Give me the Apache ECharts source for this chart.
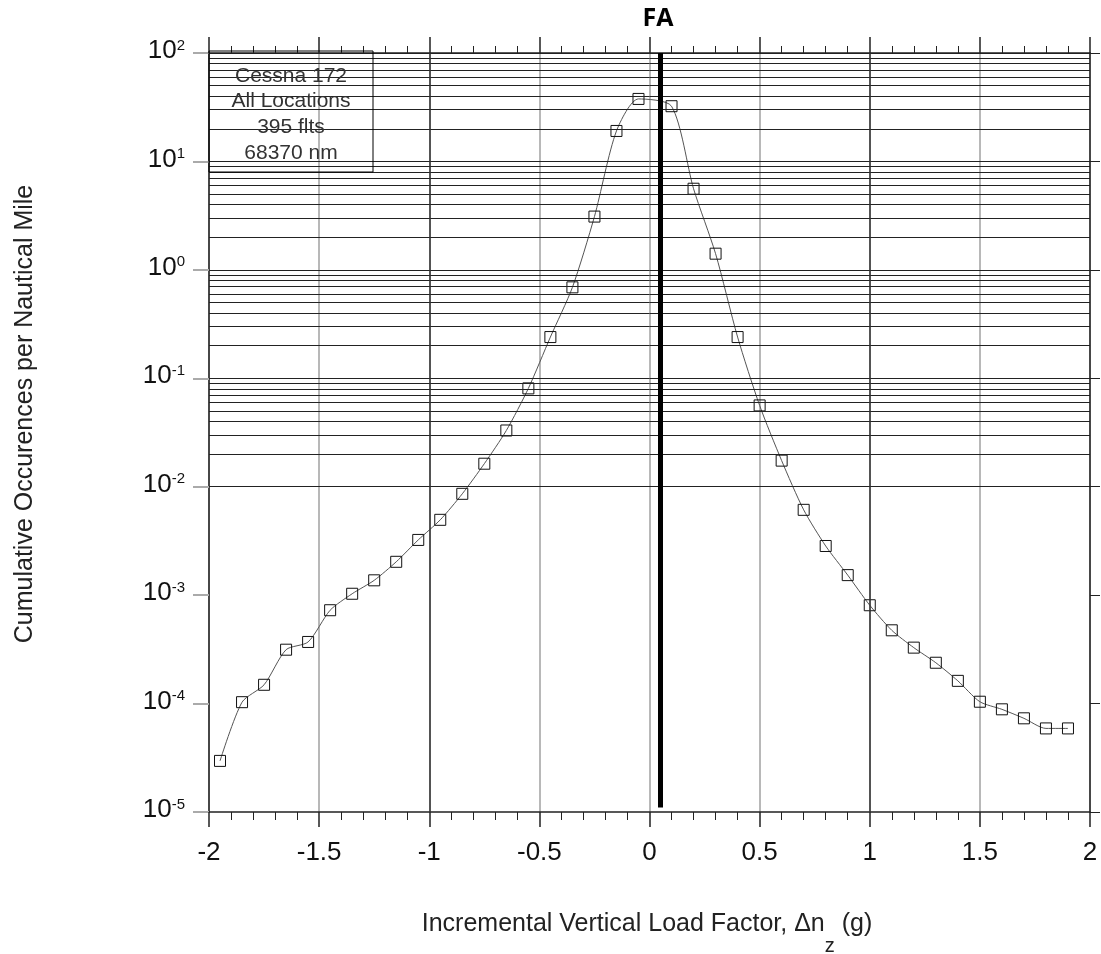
<!DOCTYPE html>
<html><head><meta charset="utf-8">
<script src="https://cdn.jsdelivr.net/npm/echarts@6/dist/echarts.min.js"></script>
<style>html,body{margin:0;padding:0;background:#fff}#c{width:1101px;height:954px}</style>
</head><body><div id="c"></div>
<script>
// ---- data ----
const loadFactor = [-1.95,-1.85,-1.75,-1.65,-1.55,-1.45,-1.35,-1.25,-1.15,-1.05,-0.95,-0.85,-0.75,-0.65,-0.55,-0.45,-0.35,-0.25,-0.15,-0.05,
  0.1,0.2,0.3,0.4,0.5,0.6,0.7,0.8,0.9,1.0,1.1,1.2,1.3,1.4,1.5,1.6,1.7,1.8,1.9];
const occurrences = [2.96e-5,1.03e-4,1.49e-4,3.14e-4,3.7e-4,7.26e-4,1.03e-3,1.37e-3,2.03e-3,3.23e-3,4.95e-3,8.6e-3,1.63e-2,3.3e-2,8.07e-2,0.24,0.69,3.1,19.1,37.7,
  32.3,5.6,1.41,0.24,0.0562,0.0174,6.12e-3,2.84e-3,1.53e-3,8.07e-4,4.74e-4,3.28e-4,2.38e-4,1.62e-4,1.04e-4,8.85e-5,7.31e-5,5.9e-5,5.9e-5];
const chartTitle = 'FA';
const boxLines = ['Cessna 172', 'All Locations', '395 flts', '68370 nm'];
const refLoadFactor = 0.05;
const darkVerticals = [-1, 1];
const decadeExponents = [-5, -4, -3, -2, -1, 0, 1];
const mantissas = [1, 2, 3, 4, 5, 6, 7, 8, 9];
const yName = 'Cumulative Occurences per Nautical Mile';
const xNameMain = 'Incremental Vertical Load Factor, \u0394n';
const xNameSub = 'z';
const xNameEnd = ' (g)';

const gridVals = [];
decadeExponents.forEach(e => mantissas.forEach(m => {
  const v = m * Math.pow(10, e);
  if (!(e === -5 && m === 1)) gridVals.push(v);
}));
gridVals.push(100);

const FONT = '"Liberation Sans", Arial, sans-serif';
const chart = echarts.init(document.getElementById('c'));

const commonY = {
  type: 'log', logBase: 10, min: 1e-5, max: 100,
  splitLine: { show: false }, minorTick: { show: false }, minorSplitLine: { show: false }
};
const commonX = { type: 'value', min: -2, max: 2, interval: 0.5 };

chart.setOption({
  animation: false,
  backgroundColor: '#fff',
  textStyle: { fontFamily: FONT },
  grid: { left: 209, right: 11, top: 53, bottom: 142 },
  xAxis: [
    Object.assign({}, commonX, {
      position: 'bottom',
      axisLine: { show: true, onZero: false, lineStyle: { color: '#222', width: 1.5 } },
      axisTick: { show: true, inside: false, length: 15, lineStyle: { color: '#222', width: 1.5 } },
      minorTick: { show: true, splitNumber: 5, length: 8, lineStyle: { color: '#222', width: 1 } },
      axisLabel: { show: true, margin: 28, fontSize: 26, color: '#111', fontFamily: FONT,
        formatter: v => String(v) },
      splitLine: { show: true, lineStyle: { color: '#a0a0a0', width: 1.5 } }
    }),
    Object.assign({}, commonX, {
      position: 'top',
      axisLine: { show: true, onZero: false, lineStyle: { color: '#222', width: 1.5 } },
      axisTick: { show: true, inside: false, length: 16, lineStyle: { color: '#222', width: 1.5 } },
      minorTick: { show: true, splitNumber: 5, length: 7, lineStyle: { color: '#222', width: 1 } },
      axisLabel: { show: false },
      splitLine: { show: false }
    })
  ],
  yAxis: [
    Object.assign({}, commonY, {
      position: 'left',
      axisLine: { show: true, onZero: false, lineStyle: { color: '#222', width: 1.5 } },
      axisTick: { show: true, inside: false, length: 16, lineStyle: { color: '#aaa', width: 2 } },
      axisLabel: {
        show: true, margin: 24, fontFamily: FONT, color: '#111',
        formatter: v => '{b|10}{s|' + Math.round(Math.log10(v)) + '}',
        rich: {
          b: { fontSize: 26, lineHeight: 30, verticalAlign: 'top', color: '#111', fontFamily: FONT },
          s: { fontSize: 15, lineHeight: 10, verticalAlign: 'top', color: '#111', fontFamily: FONT }
        }
      }
    }),
    Object.assign({}, commonY, {
      position: 'right',
      axisLine: { show: true, onZero: false, lineStyle: { color: '#222', width: 1.5 } },
      axisTick: { show: true, inside: false, length: 10, lineStyle: { color: '#222', width: 1 } },
      axisLabel: { show: false }
    })
  ],
  series: [
    {
      type: 'line', data: [], xAxisIndex: 0, yAxisIndex: 0, silent: true, z: 1,
      markLine: {
        silent: true, symbol: ['none', 'none'], label: { show: false }, animation: false,
        emphasis: { disabled: true },
        lineStyle: { color: '#222', width: 1, type: 'solid' },
        data: gridVals.map(v => ({ yAxis: v }))
      }
    },
    {
      type: 'line', data: [], xAxisIndex: 0, yAxisIndex: 0, silent: true, z: 1,
      markLine: {
        silent: true, symbol: ['none', 'none'], label: { show: false }, animation: false,
        emphasis: { disabled: true },
        lineStyle: { color: '#333', width: 1.5, type: 'solid' },
        data: darkVerticals.map(v => ({ xAxis: v }))
      }
    },
    {
      type: 'line', xAxisIndex: 0, yAxisIndex: 0, z: 3,
      data: loadFactor.map((x, i) => [x, occurrences[i]]),
      smooth: 0.25,
      lineStyle: { color: '#555', width: 1 },
      symbol: 'rect', symbolSize: 11,
      itemStyle: { color: 'rgba(0,0,0,0)', borderColor: '#111', borderWidth: 1 },
      emphasis: { disabled: true }
    },
    {
      type: 'line', data: [], xAxisIndex: 0, yAxisIndex: 0, silent: true, z: 5,
      markLine: {
        silent: true, symbol: ['none', 'none'], label: { show: false }, animation: false,
        emphasis: { disabled: true },
        lineStyle: { color: '#000', width: 5, type: 'solid', cap: 'butt' },
        data: [[{ coord: [refLoadFactor, 100] }, { coord: [refLoadFactor, 1.1e-5] }]]
      }
    }
  ],
  graphic: [
    { type: 'text', z: 10, x: 658, y: 19,
      style: { text: chartTitle, font: 'bold 25px "Open Sans", "DejaVu Sans", sans-serif', fill: '#000',
        textAlign: 'center', textVerticalAlign: 'middle' } },
    { type: 'rect', z: 10, shape: { x: 209, y: 51, width: 164, height: 121 },
      style: { fill: 'none', stroke: '#000', lineWidth: 1 } },
    ...boxLines.map((t, i) => ({
      type: 'text', z: 11, x: 291, y: 76 + i * 25.6,
      style: { text: t, font: '21px ' + FONT, fill: '#333', textAlign: 'center', textVerticalAlign: 'middle' }
    })),
    { type: 'text', z: 10, x: 25, y: 414, rotation: Math.PI / 2,
      style: { text: yName, font: '25px ' + FONT, fill: '#222', textAlign: 'center', textVerticalAlign: 'middle' } },
    { type: 'text', z: 10, x: 647, y: 912,
      style: {
        text: '{a|' + xNameMain + '}{sub|' + xNameSub + '}{a|' + xNameEnd + '}',
        textAlign: 'center', textVerticalAlign: 'top',
        rich: {
          a: { fontSize: 25, lineHeight: 26, verticalAlign: 'top', fontFamily: FONT, fill: '#222', color: '#222' },
          sub: { fontSize: 20, lineHeight: 20, padding: [24, 0, 0, 0], verticalAlign: 'top', fontFamily: FONT, fill: '#222', color: '#222' }
        }
      } }
  ]
});
</script></body></html>
